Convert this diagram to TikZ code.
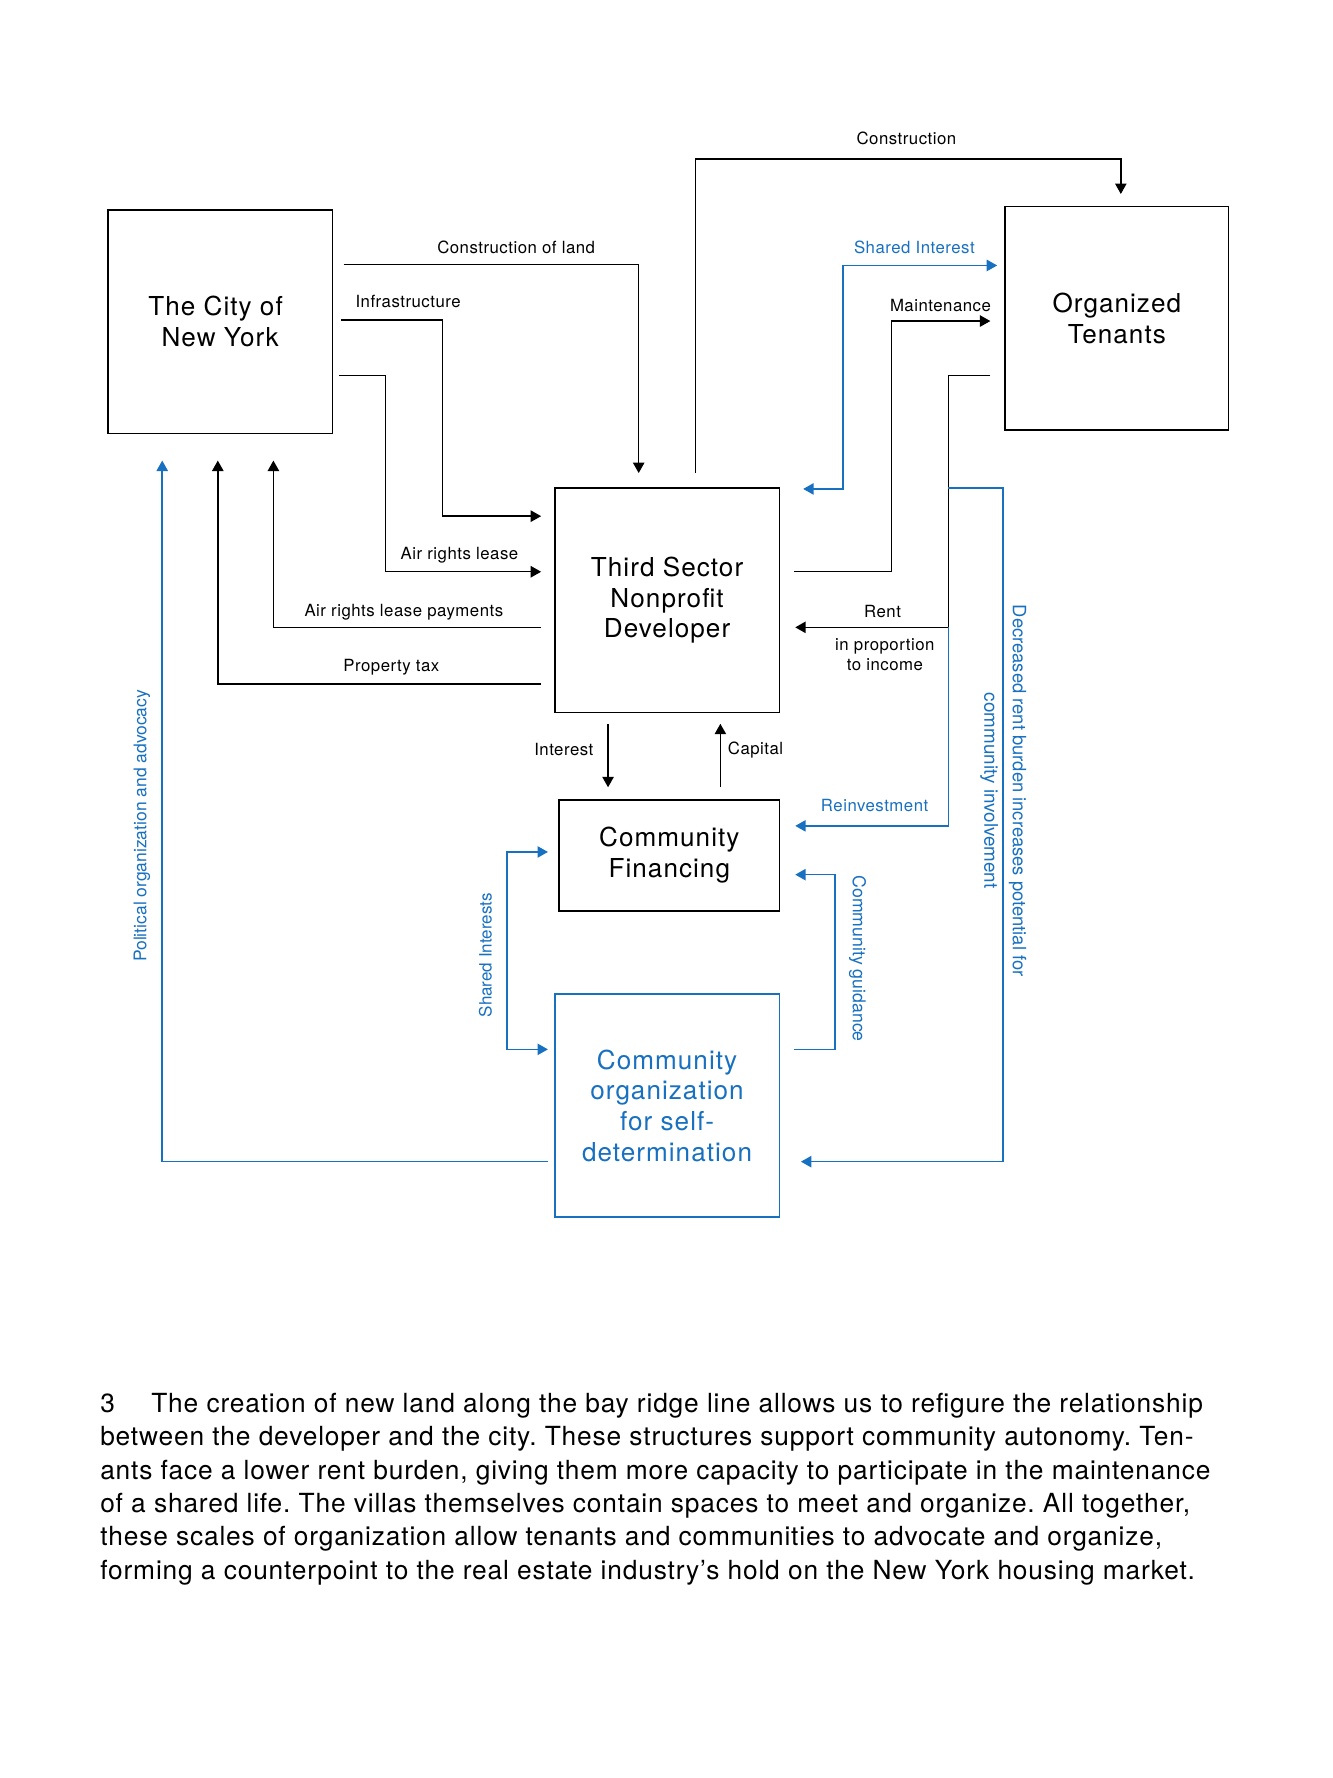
\documentclass[tikz,border=0pt]{standalone}
\usepackage{fontspec}
\setmainfont{TeX Gyre Heros}
\newfontfamily\labfont[LetterSpace=3]{TeX Gyre Heros}
\newfontfamily\boxfont[LetterSpace=4]{TeX Gyre Heros}
\newfontfamily\capfont[LetterSpace=3.2]{TeX Gyre Heros}
\usetikzlibrary{arrows.meta}
\definecolor{bl}{RGB}{24,112,192}
\frenchspacing
\begin{document}
\begin{tikzpicture}[x=0.5pt,y=-0.5pt,
  box/.style={draw, line width=0.7pt, inner sep=0pt, align=center, font=\boxfont\fontsize{11.5}{13.5}\selectfont},
  ln/.style={line width=0.65pt},
  arr/.style={ln, -{Triangle[length=4.6pt,width=5pt]}},
  darr/.style={ln, {Triangle[length=4.6pt,width=5pt]}-{Triangle[length=4.6pt,width=5pt]}},
  lab/.style={font=\labfont\fontsize{7.4}{8.6}\selectfont, inner sep=0pt, align=center},
  vlab/.style={inner sep=0pt, text=bl},
  captxt/.style={font=\capfont\fontsize{11.6}{13}\selectfont, inner sep=0pt, anchor=base west}]
\useasboundingbox (0,0) rectangle (1175,1567.3);

% boxes
\node[box, minimum width=99pt, minimum height=98.5pt] (city) at (194,283.5) {The City of\hspace*{4pt}\\New York};
\node[box, minimum width=98.5pt, minimum height=98.5pt] (ten) at (984.5,280.5) {Organized\\Tenants};
\node[box, minimum width=99pt, minimum height=99pt] (dev) at (588,529) {Third Sector\\Nonprofit\\Developer};
\node[box, minimum width=97pt, minimum height=49pt] (fin) at (590,754) {Community\\Financing};
\node[box, draw=bl, text=bl, minimum width=99pt, minimum height=98.5pt] (org) at (588,974.5) {Community\\organization\\for self-\\determination};

% endpoint coordinates
\coordinate (cl0) at (303,233);  \coordinate (cl1) at (563,417);
\coordinate (in0) at (301,282);  \coordinate (in1) at (390,455); \coordinate (in2) at (477,455);
\coordinate (ar0) at (299,331);  \coordinate (ar1) at (340,504); \coordinate (ar2) at (477,504);
\coordinate (ap0) at (477,553);  \coordinate (ap1) at (241,406);
\coordinate (pt0) at (477,603);  \coordinate (pt1) at (192,406);
\coordinate (po0) at (483,1024); \coordinate (po1) at (143,406);
\coordinate (cn0) at (613,417);  \coordinate (cn1) at (988,140); \coordinate (cn2) at (988,171);
\coordinate (si0) at (708,431);  \coordinate (si1) at (743,234); \coordinate (si2) at (879,234);
\coordinate (mt0) at (700,504);  \coordinate (mt1) at (786,283); \coordinate (mt2) at (873,283);
\coordinate (rt0) at (873,331);  \coordinate (rt1) at (836,553); \coordinate (rt2) at (701,553);
\coordinate (dr0) at (836,430);  \coordinate (dr1) at (884,1024); \coordinate (dr2) at (706,1024);
\coordinate (rv0) at (836,553);  \coordinate (rv1) at (701,728);
\coordinate (cg0) at (700,925);  \coordinate (cg1) at (736,771); \coordinate (cg2) at (701,771);
\coordinate (sh0) at (483,751);  \coordinate (sh1) at (447,925); \coordinate (sh2) at (483,925);
\coordinate (it0) at (536,638);  \coordinate (it1) at (536,694);
\coordinate (cp0) at (635,694);  \coordinate (cp1) at (635,638);

% connectors
\draw[arr] (cl0) -| (cl1);
\draw[arr] (in0) -| (in1) -- (in2);
\draw[arr] (ar0) -| (ar1) -- (ar2);
\draw[arr] (ap0) -| (ap1);
\draw[arr] (pt0) -| (pt1);
\draw[arr, bl] (po0) -| (po1);
\draw[arr] (cn0) |- (cn1) -- (cn2);
\draw[darr, bl] (si0) -| (si1) -- (si2);
\draw[arr] (mt0) -| (mt1) -- (mt2);
\draw[arr] (rt0) -| (rt1) -- (rt2);
\draw[arr, bl] (dr0) -| (dr1) -- (dr2);
\draw[arr, bl] (rv0) |- (rv1);
\draw[arr, bl] (cg0) -| (cg1) -- (cg2);
\draw[darr, bl] (sh0) -| (sh1) -- (sh2);
\draw[arr] (it0) -- (it1);
\draw[arr] (cp0) -- (cp1);

% labels
\node[lab] (l1) at (455,218) {Construction of land};
\node[lab, anchor=west] (l2) at (313,266) {Infrastructure};
\node[lab] (l3) at (405,489) {Air rights lease};
\node[lab] (l4) at (356,540) {Air rights lease payments};
\node[lab] (l5) at (345,588) {Property tax};
\node[lab] (l6) at (799,122) {Construction};
\node[lab, text=bl] (l7) at (806,218) {Shared Interest};
\node[lab] (l8) at (829,269) {Maintenance};
\node[lab] (l9) at (778,539) {Rent};
\node[lab] (l10) at (780,577) {in proportion\\to income};
\node[lab, text=bl] (l11) at (771,710) {Reinvestment};
\node[lab] (l12) at (497,661) {Interest};
\node[lab] (l13) at (666,661) {Capital};
\node[vlab, font=\fontsize{7.7}{9}\selectfont, rotate=90] (l14) at (125,728) {Political organization and advocacy};
\node[vlab, font=\fontsize{7.5}{9}\selectfont, rotate=90] (l15) at (428,842) {Shared Interests};
\node[vlab, font=\fontsize{7.8}{9}\selectfont, rotate=-90] (l16) at (756,845) {Community guidance};
\node[vlab, font=\fontsize{8.3}{9}\selectfont, rotate=-90] (l17) at (872,697) {community involvement};
\node[vlab, font=\fontsize{8.1}{9}\selectfont, rotate=-90] (l18) at (897,697) {Decreased rent burden increases potential for};

% caption
\node[captxt] (c0) at (88,1245) {3};
\node[captxt] (c1) at (133,1245) {The creation of new land along the bay ridge line allows us to refigure the relationship};
\node[captxt] (c2) at (88,1274.5) {between the developer and the city. These structures support community autonomy. Ten-};
\node[captxt] (c3) at (88,1304) {ants face a lower rent burden, giving them more capacity to participate in the maintenance};
\node[captxt] (c4) at (88,1333) {of a shared life. The villas themselves contain spaces to meet and organize. All together,};
\node[captxt] (c5) at (88,1362.5) {these scales of organization allow tenants and communities to advocate and organize,};
\node[captxt] (c6) at (88,1392) {forming a counterpoint to the real estate industry’s hold on the New York housing market.};
\end{tikzpicture}
\end{document}
